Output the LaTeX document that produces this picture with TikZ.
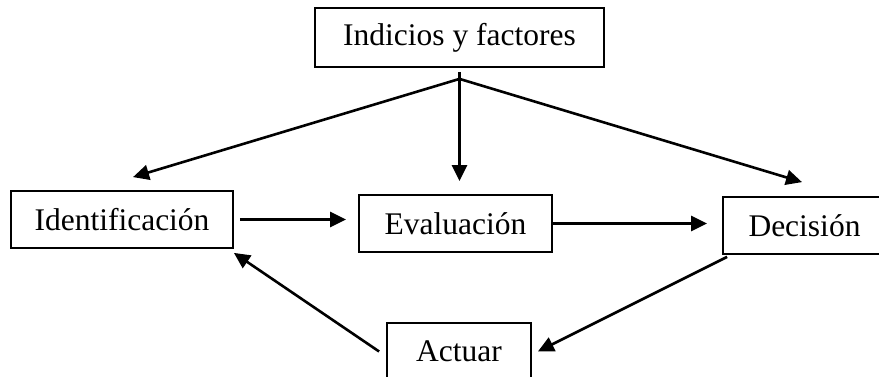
\documentclass[tikz,border=0pt]{standalone}
\usepackage{fontspec}
\setmainfont{Liberation Serif}
\usetikzlibrary{arrows.meta}
\tikzset{
  box/.style={draw, line width=1.8pt, inner sep=0pt, font=\fontsize{31.5}{36}\selectfont},
  arr/.style={line width=2.6pt, -{Triangle[length=16pt,width=15pt]}}
}
\begin{document}
\begin{tikzpicture}[x=1pt,y=-1pt]
\useasboundingbox (0,0) rectangle (879,377);
\clip (0,0) rectangle (879,377);
\node[box, minimum width=289pt, minimum height=59pt] (ind) at (459.5,37.5) {Indicios y factores};
\node[box, minimum width=222pt, minimum height=57pt] (ident) at (122,219.5) {Identificación};
\node[box, minimum width=193pt, minimum height=57pt] (eval) at (455.5,223.5) {Evaluación};
\node[box, minimum width=163pt, minimum height=57pt] (dec) at (804.5,225.5) {Decisión};
\node[box, minimum width=144pt, minimum height=57pt] (act) at (459,351.5) {Actuar};
\coordinate (top) at ([yshift=-4pt]ind.south);
\coordinate (hub) at ([yshift=-11pt]ind.south);
\draw[arr] (top) -- ([yshift=13pt]top |- eval.north);
\draw[arr] (hub) -- ([xshift=11pt,yshift=13pt]ident.north);
\draw[arr] (hub) -- ([xshift=-2.5pt,yshift=14pt]dec.north);
\draw[arr] ([xshift=6pt]ident.east) -- ([xshift=-12pt]eval.west |- ident.east);
\draw[arr] ([xshift=0pt]eval.east) -- ([xshift=-15pt]dec.west |- eval.east);
\draw[arr] ([xshift=5pt,yshift=-2pt]dec.south west) -- ([xshift=6pt]act.east);
\draw[arr] ([xshift=-7pt]act.west) -- ([yshift=-4pt]ident.south east);
\end{tikzpicture}
\end{document}
